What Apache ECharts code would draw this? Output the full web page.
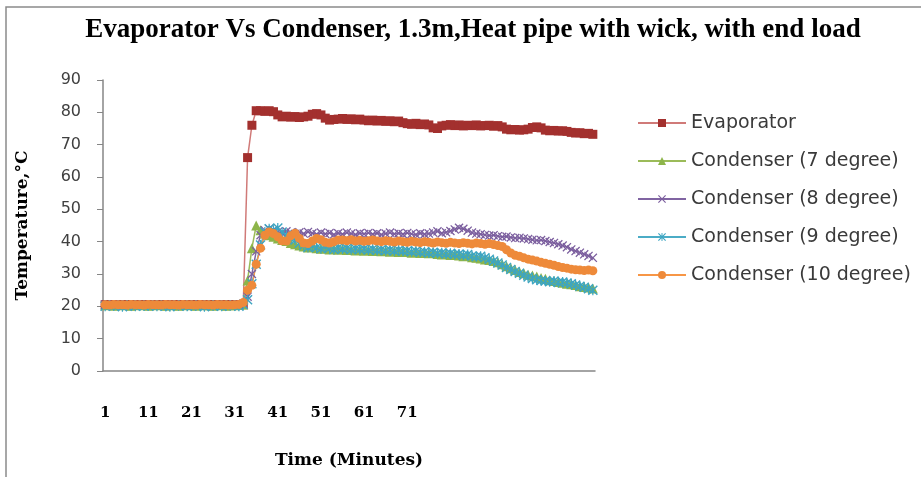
<!DOCTYPE html>
<html>
<head>
<meta charset="utf-8">
<script src="https://cdn.jsdelivr.net/npm/echarts@6/dist/echarts.min.js"></script>
<style>
  html, body { margin: 0; padding: 0; background: #fff; }
  #chart { width: 921px; height: 477px; }
</style>
</head>
<body>
<div id="chart"></div>
<script>
// minutes 1..80 have labels, later points sit on blank categories (as in the source sheet)
var categories = [
  '1','2','3','4','5','6','7','8','9','10','11','12','13','14','15','16','17','18','19','20',
  '21','22','23','24','25','26','27','28','29','30','31','32','33','34','35','36','37','38','39','40',
  '41','42','43','44','45','46','47','48','49','50','51','52','53','54','55','56','57','58','59','60',
  '61','62','63','64','65','66','67','68','69','70','71','72','73','74','75','76','77','78','79','80',
  '','','','','','','','','','','','','','','','','','','','',
  '','','','','','','','','','','','','',''
]

var evaporator = [
  20.5,20.5,20.5,20.5,20.5,20.5,20.5,20.5,20.5,20.5,
  20.5,20.5,20.5,20.5,20.5,20.5,20.5,20.5,20.5,20.5,
  20.5,20.5,20.5,20.5,20.5,20.5,20.5,20.5,20.5,20.5,
  20.5,20.5,20.5,66,76,80.5,80.5,80.3,80.5,80.2,
  79.2,78.6,78.8,78.5,78.7,78.4,78.6,78.8,79.4,79.6,
  79.2,78.2,77.6,77.8,77.9,78.1,77.8,78,77.7,77.9,
  77.6,77.4,77.6,77.3,77.5,77.2,77.4,77.1,77.3,76.8,
  76.5,76.3,76.6,76.2,76.4,76.1,75.2,75,75.8,76,
  76.2,75.9,76.1,75.8,76,75.9,76.1,75.8,75.9,76,
  75.7,75.9,75.5,74.8,74.6,74.7,74.5,74.6,74.8,75.3,
  75.5,75.2,74.5,74.3,74.4,74.2,74.3,74.1,73.8,73.6,
  73.7,73.4,73.5,73.2
]

var cond7 = [
  20.3,20.4,20.2,20.3,20.4,20.3,20.2,20.3,20.4,20.3,
  20.2,20.3,20.4,20.3,20.2,20.4,20.3,20.2,20.3,20.4,
  20.3,20.2,20.4,20.3,20.3,20.2,20.4,20.3,20.2,20.3,
  20.3,20.4,20.6,28,38,45,43.5,42.5,42,41.5,
  41,40.5,40.2,39.6,39.2,38.8,38.5,38.2,38.4,38,
  37.8,38,37.6,37.8,37.5,37.7,37.4,37.6,37.3,37.5,
  37.2,37.4,37.1,37.3,37,37.2,36.9,37.1,36.8,37,
  36.8,36.6,36.9,36.5,36.7,36.4,36.6,36.2,36,36.3,
  35.9,36.1,35.7,35.5,35.7,35.2,35,34.8,34.5,34.3,
  34,33.6,33,32.4,31.8,31.2,30.6,30.2,29.8,29.5,
  29.2,28.8,28.5,28.1,27.8,27.5,27.3,27,26.8,26.6,
  26.2,26,25.8,25.5
]

var cond8 = [
  20.5,20.4,20.6,20.5,20.4,20.6,20.5,20.5,20.4,20.6,
  20.5,20.6,20.4,20.5,20.5,20.6,20.4,20.5,20.6,20.5,
  20.4,20.5,20.6,20.5,20.4,20.5,20.6,20.4,20.5,20.5,
  20.5,20.6,20.8,23,30,37,42,43.5,44,43.6,
  43,42.6,43.2,42.8,42.4,42.9,42.5,43,42.6,42.3,
  42.8,42.4,42.7,42.2,42.6,42.3,42.8,42.5,42.2,42.6,
  42.4,42.7,42.3,42.6,42.2,42.5,42.8,42.4,42.6,42.3,
  42.7,42.4,42.2,42.6,42.3,42.5,42.8,43.2,42.6,42.9,
  43.3,43.8,44.3,44,43.4,42.8,42.5,42.3,42.1,41.9,
  42,41.7,41.5,41.6,41.3,41.1,41.2,41,40.8,40.6,
  40.4,40.5,40.2,39.9,39.6,39.2,38.8,38.3,37.6,37.1,
  36.6,36.1,35.6,35
]

var cond9 = [
  20,20.4,20.1,20.3,19.9,20.2,20.4,20,20.3,20.1,
  20.2,20.4,20,20.3,20.1,19.9,20.3,20.2,20.4,20,
  20.1,20.3,20.2,19.9,20.4,20.1,20.3,20,20.2,20.4,
  20.2,20,20.6,22,27,33,39,43,44,43.5,
  44.2,43,42,41,40.5,39.5,38.8,38.2,38.7,38.2,
  37.8,38.4,38,37.6,38.1,37.7,38,37.5,37.9,37.6,
  37.8,37.4,37.7,37.3,37.6,37.2,37.5,37.1,37.4,37,
  37.2,36.9,37.1,36.7,36.9,36.5,36.7,36.4,36.6,36.2,
  36.4,36,36.2,35.8,36,35.6,35.3,35.5,35,34.6,
  34,33.4,32.8,32,31.4,30.8,30.2,29.6,29.1,28.6,
  28.2,28,27.8,27.6,27.8,27.4,27.5,27.2,27,26.6,
  26.2,25.9,25.4,25
]

var cond10 = [
  20.5,20.4,20.6,20.5,20.5,20.4,20.6,20.5,20.5,20.4,
  20.6,20.5,20.5,20.4,20.6,20.5,20.5,20.4,20.6,20.5,
  20.5,20.4,20.6,20.5,20.5,20.4,20.6,20.5,20.5,20.4,
  20.5,20.6,21.2,25,26.5,33,38,42,43,42.5,
  41.5,40.3,40.2,41.8,42.6,41,39.6,39.4,40.2,41,
  40.6,39.8,39.6,40,40.5,40.5,40.3,40.6,40.2,40.4,
  40.1,40.3,40.5,40.2,40,40.3,40.1,39.9,40.2,40,
  39.8,40.1,39.9,39.7,40,39.8,39.6,39.9,39.7,39.5,
  39.8,39.6,39.4,39.7,39.5,39.3,39.6,39.4,39.2,39.4,
  39.1,38.8,38.5,37.5,36.5,35.8,35.5,35,34.6,34.3,
  34,33.6,33.3,33,32.7,32.3,32,31.8,31.5,31.3,
  31.2,31.1,31.2,31
]

var yTicks = [0, 10, 20, 30, 40, 50, 60, 70, 80, 90]

var crossPath = 'path://M0,1L1,0L5,4L9,0L10,1L6,5L10,9L9,10L5,6L1,10L0,9L4,5Z'
var starPath = 'path://M0,1L1,0L5,4L9,0L10,1L6,5L10,9L9,10L5,6L1,10L0,9L4,5Z M4.4,0L5.6,0L5.6,10L4.4,10Z'

var chart = echarts.init(document.getElementById('chart'))

function makeSeries(name, data, color, lineColor, symbol, size) {
  return {
    name: name,
    type: 'line',
    data: data,
    symbol: symbol,
    symbolSize: size,
    showAllSymbol: true,
    lineStyle: { color: lineColor, width: 1.5 },
    itemStyle: { color: color, borderWidth: 0 },
    emphasis: { disabled: true }
  }
}

chart.setOption({
  animation: false,
  title: {
    text: 'Evaporator Vs Condenser, 1.3m,Heat pipe with wick, with end load',
    left: 468,
    top: 12,
    textAlign: 'center',
    textStyle: {
      fontFamily: 'Liberation Serif',
      fontWeight: 'bold',
      fontSize: 27,
      color: '#000'
    }
  },
  graphic: [{
    type: 'rect',
    shape: { x: 6, y: 7, width: 1000, height: 1000 },
    style: { fill: 'none', stroke: '#8a8a8a', lineWidth: 1.5 },
    silent: true
  }],
  legend: {
    orient: 'vertical',
    left: 632,
    top: 108,
    itemWidth: 48,
    itemHeight: 10,
    itemGap: 18,
    textStyle: {
      fontFamily: 'DejaVu Sans',
      fontSize: 19,
      color: '#3a3a3a',
      lineHeight: 20
    },
    data: ['Evaporator', 'Condenser (7 degree)', 'Condenser (8 degree)', 'Condenser (9 degree)', 'Condenser (10 degree)']
  },
  grid: {
    left: 103,
    top: 80,
    width: 492,
    height: 291
  },
  xAxis: {
    type: 'category',
    data: categories,
    boundaryGap: true,
    name: 'Time (Minutes)',
    nameLocation: 'middle',
    nameGap: 81,
    nameTextStyle: {
      fontFamily: 'DejaVu Serif',
      fontWeight: 'bold',
      fontSize: 17,
      color: '#000'
    },
    axisLine: { lineStyle: { color: '#868686', width: 1.5 } },
    axisTick: { interval: 0, length: 6, lineStyle: { color: '#868686' } },
    axisLabel: {
      interval: 9,
      margin: 35,
      fontFamily: 'DejaVu Serif',
      fontWeight: 'bold',
      fontSize: 15,
      color: '#000'
    },
    splitLine: { show: false }
  },
  yAxis: {
    type: 'value',
    min: yTicks[0],
    max: yTicks[yTicks.length - 1],
    interval: 10,
    name: 'Temperature,°C',
    nameLocation: 'middle',
    nameGap: 72,
    nameTextStyle: {
      fontFamily: 'DejaVu Serif',
      fontWeight: 'bold',
      fontSize: 17,
      color: '#000'
    },
    axisLine: { show: true, lineStyle: { color: '#868686', width: 1.5 } },
    axisTick: { show: true, length: 6, lineStyle: { color: '#868686' } },
    axisLabel: {
      margin: 22,
      fontFamily: 'DejaVu Sans',
      fontSize: 16,
      color: '#404040'
    },
    splitLine: { show: false }
  },
  series: [
    makeSeries('Evaporator', evaporator, '#A3302E', '#D07A78', 'rect', 9),
    makeSeries('Condenser (7 degree)', cond7, '#8DB54A', '#9BBB59', 'triangle', 10),
    makeSeries('Condenser (8 degree)', cond8, '#7B5E9E', '#8064A2', crossPath, 9),
    makeSeries('Condenser (9 degree)', cond9, '#3DA5C2', '#4BACC6', starPath, 10),
    makeSeries('Condenser (10 degree)', cond10, '#EE8A3A', '#F79646', 'circle', 9)
  ]
})
</script>
</body>
</html>
